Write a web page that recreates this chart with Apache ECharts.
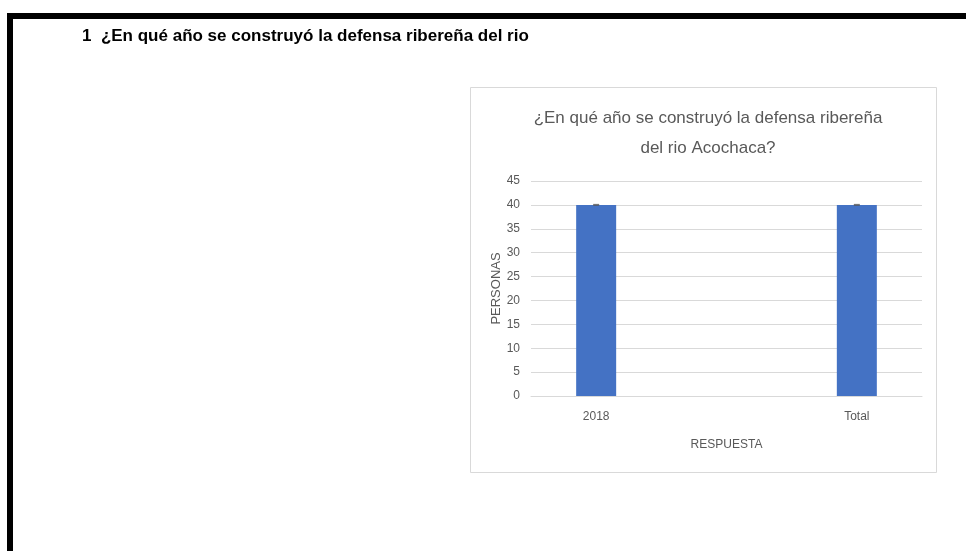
<!DOCTYPE html>
<html><head><meta charset="utf-8">
<script src="https://cdn.jsdelivr.net/npm/echarts@6/dist/echarts.min.js"></script>
<style>html,body{margin:0;padding:0;background:#fff}#c{width:966px;height:551px}</style>
</head><body><div id="c"></div>
<script>
const categories = ['2018', '', 'Total'];
const values = [40, null, 40];
const yTicks = [0, 5, 10, 15, 20, 25, 30, 35, 40, 45];
const headerText = '1  ¿En qué año se construyó la defensa ribereña del rio';
const chartTitle = '¿En qué año se construyó la defensa ribereña\ndel rio Acochaca?';
const xName = 'RESPUESTA';
const yName = 'PERSONAS';

const FONT = '"Liberation Sans", sans-serif';
const chart = echarts.init(document.getElementById('c'));
chart.setOption({
  animation: false,
  backgroundColor: '#fff',
  title: {
    text: chartTitle, left: 703, top: 98, textAlign: 'center',
    textStyle: {fontFamily: FONT, fontSize: 17, fontWeight: 'normal', color: '#595959', lineHeight: 30}
  },
  graphic: [
    {type: 'rect', shape: {x: 7, y: 13, width: 959, height: 6}, style: {fill: '#000'}},
    {type: 'rect', shape: {x: 7, y: 13, width: 6, height: 538}, style: {fill: '#000'}},
    {type: 'text', left: 82, top: 28, style: {text: headerText, fontFamily: FONT, fontSize: 17, fontWeight: 'bold', fill: '#000'}},
    {type: 'rect', shape: {x: 470.5, y: 87.5, width: 466, height: 385}, style: {fill: 'none', stroke: '#d9d9d9', lineWidth: 1}, z: -1}
  ],
  grid: {left: 531, right: 44, top: 181, bottom: 155},
  xAxis: {
    type: 'category', data: categories,
    name: xName, nameLocation: 'middle', nameGap: 43,
    nameTextStyle: {fontFamily: FONT, fontSize: 12, color: '#595959'},
    axisTick: {show: false},
    axisLine: {lineStyle: {color: '#d9d9d9'}},
    axisLabel: {fontFamily: FONT, fontSize: 12, color: '#595959', margin: 15}
  },
  yAxis: {
    type: 'value', min: yTicks[0], max: yTicks[yTicks.length - 1], interval: 5,
    name: yName, nameLocation: 'middle', nameGap: 27, nameRotate: 90,
    nameTextStyle: {fontFamily: FONT, fontSize: 13, color: '#595959'},
    axisLabel: {fontFamily: FONT, fontSize: 12, color: '#595959', margin: 11},
    splitLine: {lineStyle: {color: '#d9d9d9'}},
    axisLine: {show: false}, axisTick: {show: false}
  },
  series: [
    {type: 'bar', data: values, barWidth: 40, itemStyle: {color: '#4472c4'}},
    {type: 'scatter', data: values, symbol: 'rect', symbolSize: [6, 2], itemStyle: {color: '#555'}, z: 5}
  ]
});
</script></body></html>
